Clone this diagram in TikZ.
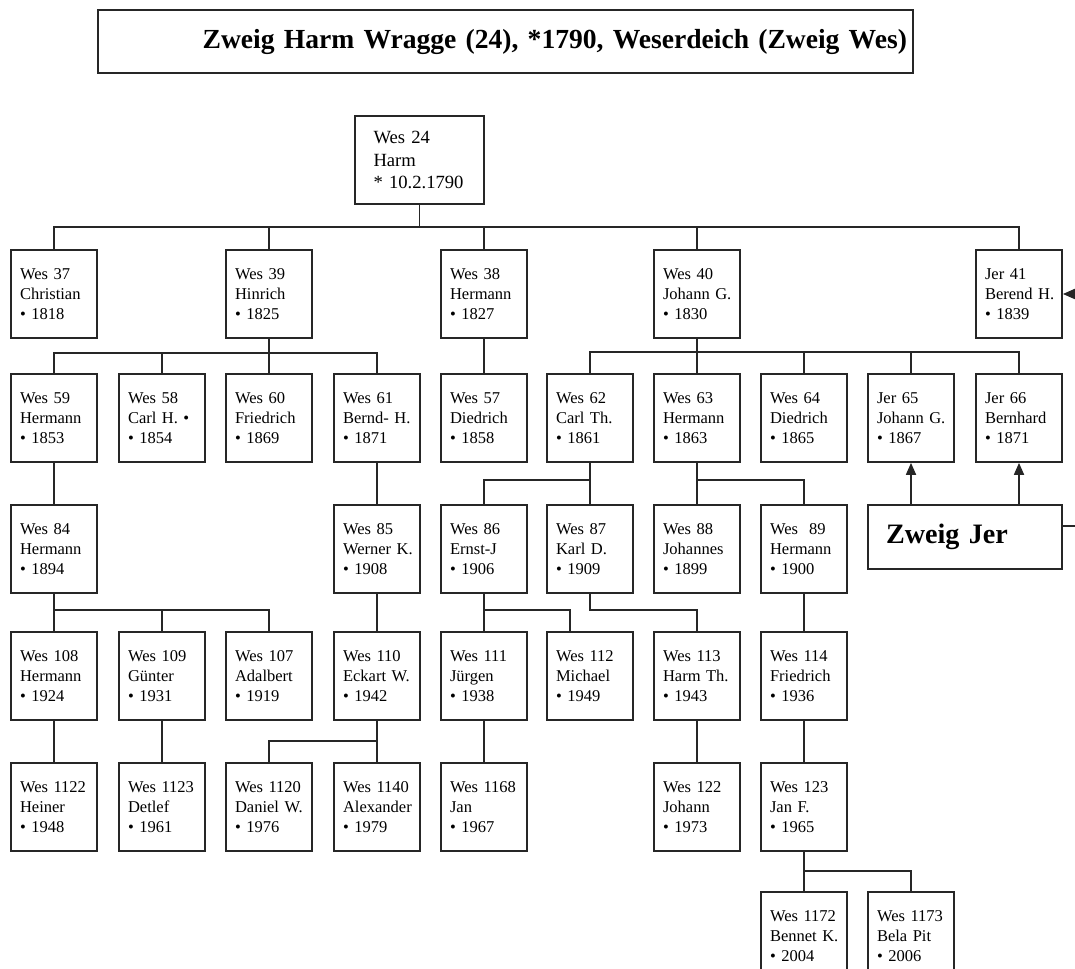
\documentclass[tikz,border=0pt]{standalone}
\usepackage{fontspec}
\setmainfont{Liberation Serif}[WordSpace=0.75]
\usepackage{xcolor}
\definecolor{treeLine}{HTML}{262626}
\usetikzlibrary{arrows.meta}
\tikzset{
  pbox/.style={draw=treeLine, line width=1pt, rectangle, minimum height=1.76cm,
    text width=1.36cm, inner xsep=0.18cm, align=left,
    font=\fontsize{9.4}{11.4}\selectfont},
  rootbox/.style={pbox, text width=1.84cm, inner xsep=0.37cm,
    font=\fontsize{10.6}{13}\selectfont},
  branchbox/.style={draw=treeLine, line width=1pt, rectangle, minimum height=1.28cm,
    text width=3.16cm, inner xsep=0.36cm, align=left,
    font=\fontsize{16}{19}\selectfont\bfseries},
  titlebox/.style={draw=treeLine, line width=1pt, rectangle, minimum height=1.26cm,
    text width=16.06cm, inner xsep=0.12cm, align=right,
    font=\fontsize{15.7}{19}\selectfont\bfseries},
  link/.style={draw=treeLine, line width=1pt},
  jarrow/.style={link, -{Triangle[length=0.24cm,width=0.2cm]}}
}

\begin{document}
\begin{tikzpicture}[x=0.02cm, y=-0.02cm]
  \useasboundingbox (0,0) rectangle (1075,969);
  \fill[white] (0,0) rectangle (1075,969);

  \node[titlebox] (title) at (505.5,41.5) {Zweig Harm Wragge (24), *1790, Weserdeich (Zweig Wes)};

  % generation 0
  \node[rootbox] (w24) at (419.5,160) {Wes~24\\Harm\\{*}~10.2.1790};

  % generation 1
  \node[pbox] (w37) at (54,294) {Wes~37\\Christian\\• 1818};
  \node[pbox] (w39) at (269,294) {Wes~39\\Hinrich\\• 1825};
  \node[pbox] (w38) at (484,294) {Wes~38\\Hermann\\• 1827};
  \node[pbox] (w40) at (697,294) {Wes~40\\Johann~G.\\• 1830};
  \node[pbox] (j41) at (1019,294) {Jer~41\\Berend~H.\\• 1839};

  % generation 2
  \node[pbox] (w59) at (54,418) {Wes~59\\Hermann\\• 1853};
  \node[pbox] (w58) at (162,418) {Wes~58\\Carl~H.~•\\• 1854};
  \node[pbox] (w60) at (269,418) {Wes~60\\Friedrich\\• 1869};
  \node[pbox] (w61) at (377,418) {Wes~61\\Bernd-~H.\\• 1871};
  \node[pbox] (w57) at (484,418) {Wes~57\\Diedrich\\• 1858};
  \node[pbox] (w62) at (590,418) {Wes~62\\Carl~Th.\\• 1861};
  \node[pbox] (w63) at (697,418) {Wes~63\\Hermann\\• 1863};
  \node[pbox] (w64) at (804,418) {Wes~64\\Diedrich\\• 1865};
  \node[pbox] (j65) at (911,418) {Jer~65\\Johann~G.\\• 1867};
  \node[pbox] (j66) at (1019,418) {Jer~66\\Bernhard\\• 1871};

  % generation 3
  \node[pbox] (w84) at (54,549) {Wes~84\\Hermann\\• 1894};
  \node[pbox] (w85) at (377,549) {Wes~85\\Werner~K.\\• 1908};
  \node[pbox] (w86) at (484,549) {Wes~86\\Ernst-J\\• 1906};
  \node[pbox] (w87) at (590,549) {Wes~87\\Karl~D.\\• 1909};
  \node[pbox] (w88) at (697,549) {Wes~88\\Johannes\\• 1899};
  \node[pbox] (w89) at (804,549) {Wes~~89\\Hermann\\• 1900};
  \node[branchbox] (zjer) at (965,537) {Zweig Jer};

  % generation 4
  \node[pbox] (w108) at (54,676) {Wes~108\\Hermann\\• 1924};
  \node[pbox] (w109) at (162,676) {Wes~109\\Günter\\• 1931};
  \node[pbox] (w107) at (269,676) {Wes~107\\Adalbert\\• 1919};
  \node[pbox] (w110) at (377,676) {Wes~110\\Eckart~W.\\• 1942};
  \node[pbox] (w111) at (484,676) {Wes~111\\Jürgen\\• 1938};
  \node[pbox] (w112) at (590,676) {Wes~112\\Michael\\• 1949};
  \node[pbox] (w113) at (697,676) {Wes~113\\Harm~Th.\\• 1943};
  \node[pbox] (w114) at (804,676) {Wes~114\\Friedrich\\• 1936};

  % generation 5
  \node[pbox] (w1122) at (54,807) {Wes~1122\\Heiner\\• 1948};
  \node[pbox] (w1123) at (162,807) {Wes~1123\\Detlef\\• 1961};
  \node[pbox] (w1120) at (269,807) {Wes~1120\\Daniel~W.\\• 1976};
  \node[pbox] (w1140) at (377,807) {Wes~1140\\Alexander\\• 1979};
  \node[pbox] (w1168) at (484,807) {Wes~1168\\Jan\\• 1967};
  \node[pbox] (w122) at (697,807) {Wes~122\\Johann\\• 1973};
  \node[pbox] (w123) at (804,807) {Wes~123\\Jan~F.\\• 1965};

  % generation 6
  \node[pbox] (w1172) at (804,936) {Wes~1172\\Bennet~K.\\• 2004};
  \node[pbox] (w1173) at (911,936) {Wes~1173\\Bela~Pit\\• 2006};

  % sibling bars
  \coordinate (b24) at (419.5,227);
  \coordinate (b39) at (269,353);
  \coordinate (b40) at (697,352);
  \coordinate (b62) at (590,480);
  \coordinate (b63) at (697,480);
  \coordinate (b84) at (54,610);
  \coordinate (b86) at (484,610);
  \coordinate (b87) at (590,610);
  \coordinate (b110) at (377,741);
  \coordinate (b123) at (804,871);

  \draw[link] (w24.south) -- (b24);
  \foreach \c in {w37,w39,w38,w40,j41}
    \draw[link] (b24) -| (\c.north);
  \draw[link] (w39.south) -- (b39);
  \foreach \c in {w59,w58,w60,w61}
    \draw[link] (b39) -| (\c.north);
  \draw[link] (w38.south) -- (w57.north);
  \draw[link] (w40.south) -- (b40);
  \foreach \c in {w62,w63,w64,j65,j66}
    \draw[link] (b40) -| (\c.north);

  \draw[link] (w59.south) -- (w84.north);
  \draw[link] (w61.south) -- (w85.north);
  \draw[link] (w62.south) -- (b62);
  \foreach \c in {w86,w87}
    \draw[link] (b62) -| (\c.north);
  \draw[link] (w63.south) -- (b63);
  \foreach \c in {w88,w89}
    \draw[link] (b63) -| (\c.north);

  \draw[link] (w84.south) -- (b84);
  \foreach \c in {w108,w109,w107}
    \draw[link] (b84) -| (\c.north);
  \draw[link] (w85.south) -- (w110.north);
  \draw[link] (w86.south) -- (b86);
  \draw[link] (b86) -| (w111.north);
  \draw[link] (b86) -| ([xshift=-0.4cm]w112.north);
  \draw[link] (w87.south) -- (b87) -| (w113.north);
  \draw[link] (w89.south) -- (w114.north);

  \draw[link] (w108.south) -- (w1122.north);
  \draw[link] (w109.south) -- (w1123.north);
  \draw[link] (w110.south) -- (b110);
  \foreach \c in {w1120,w1140}
    \draw[link] (b110) -| (\c.north);
  \draw[link] (w111.south) -- (w1168.north);
  \draw[link] (w113.south) -- (w122.north);
  \draw[link] (w114.south) -- (w123.north);
  \draw[link] (w123.south) -- (b123);
  \foreach \c in {w1172,w1173}
    \draw[link] (b123) -| (\c.north);

  % Zweig Jer links
  \draw[jarrow] (zjer.north -| j65.south) -- (j65.south);
  \draw[jarrow] (zjer.north -| j66.south) -- (j66.south);
  \coordinate (edge) at (1095,526);
  \draw[jarrow] ([yshift=0.22cm]zjer.east) -- (edge) |- (j41.east);
\end{tikzpicture}
\end{document}
